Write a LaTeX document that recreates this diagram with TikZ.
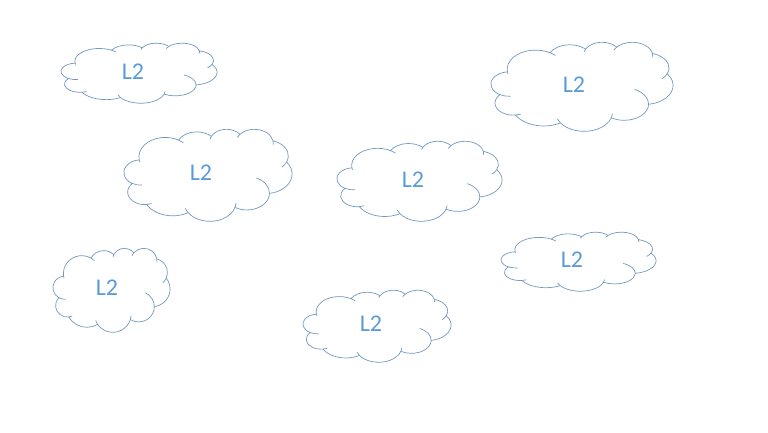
\documentclass[tikz,border=0pt]{standalone}
\usepackage{fontspec}
\setmainfont{Carlito}
\usepackage{tikz}
\definecolor{cloudline}{RGB}{115,152,190}
\definecolor{cloudtext}{RGB}{91,155,213}
\tikzset{
  cloudedge/.style={draw=cloudline,line width=0.7pt},
  cloudlabel/.style={text=cloudtext,font=\fontsize{24}{26}\selectfont,inner sep=0pt}
}
% left, top, width, height, name, label x, label y
\newcommand{\puffycloud}[7]{
\begin{scope}[shift={(#1,#2)},x=#3pt/432,y=-#4pt/432]
\draw[cloudedge] (39,143.7)
  arc[x radius=67.53,y radius=91.9,start angle=-187.75,end angle=-59.62] coordinate (#5p1)
  arc[x radius=53.33,y radius=72.67,start angle=-152.03,end angle=-45.43] coordinate (#5p2)
  arc[x radius=43.65,y radius=59.45,start angle=-153.48,end angle=-37.32] coordinate (#5p3)
  arc[x radius=48.57,y radius=65.95,start angle=-139.72,end angle=-10.21] coordinate (#5p4)
  arc[x radius=53.33,y radius=72.73,start angle=-74.77,end angle=23.21] coordinate (#5p5)
  arc[x radius=67.75,y radius=92.2,start angle=-37.53,end angle=81.86] coordinate (#5p6)
  arc[x radius=57.85,y radius=78.67,start angle=0.46,end angle=121.99] coordinate (#5p7)
  arc[x radius=67.52,y radius=92.15,start angle=16.85,end angle=146.24] coordinate (#5p8)
  arc[x radius=77.2,y radius=105.43,start angle=59.01,end angle=150.18] coordinate (#5p9)
  arc[x radius=43.6,y radius=59.18,start angle=83.31,end angle=223.09] coordinate (#5p10)
  arc[x radius=43.45,y radius=59.45,start angle=120.33,end angle=264.12] -- cycle;
\draw[cloudedge] (39,143.7) arc[x radius=67.53,y radius=91.9,start angle=-187.75,end angle=-195];
\draw[cloudedge] (#5p1) arc[x radius=67.53,y radius=91.9,start angle=-59.62,end angle=-46];
\draw[cloudedge] (#5p2) arc[x radius=43.65,y radius=59.45,start angle=-153.48,end angle=-166];
\draw[cloudedge] (#5p3) arc[x radius=48.57,y radius=65.95,start angle=-139.72,end angle=-155];
\draw[cloudedge] (#5p4) arc[x radius=48.57,y radius=65.95,start angle=-10.21,end angle=5];
\draw[cloudedge] (#5p5) arc[x radius=53.33,y radius=72.73,start angle=23.21,end angle=47];
\draw[cloudedge] (#5p6) arc[x radius=57.85,y radius=78.67,start angle=0.46,end angle=-65];
\draw[cloudedge] (#5p7) arc[x radius=67.52,y radius=92.15,start angle=16.85,end angle=4];
\draw[cloudedge] (#5p8) arc[x radius=67.52,y radius=92.15,start angle=146.24,end angle=160];
\draw[cloudedge] (#5p9) arc[x radius=43.6,y radius=59.18,start angle=83.31,end angle=66];
\draw[cloudedge] (#5p10) arc[x radius=43.45,y radius=59.45,start angle=120.33,end angle=85.55];
\end{scope}
\node[cloudlabel] (#5) at (#6,#7) {L2};
}
\begin{document}
\begin{tikzpicture}[x=1pt,y=-1pt]
\useasboundingbox (0,0) rectangle (768,432);
\puffycloud{61}{43}{156}{60}{topleft}{133}{72}
\puffycloud{491}{42}{182}{89}{topright}{574}{85}
\puffycloud{124}{129}{168}{92}{midleft}{201}{173}
\puffycloud{337}{141}{165}{80}{centre}{413}{180}
\puffycloud{501}{232}{155}{59}{midright}{572}{260}
\puffycloud{53}{248}{117}{84}{lowleft}{107}{288}
\puffycloud{303}{290}{148}{72}{bottom}{371}{324}
\end{tikzpicture}
\end{document}
